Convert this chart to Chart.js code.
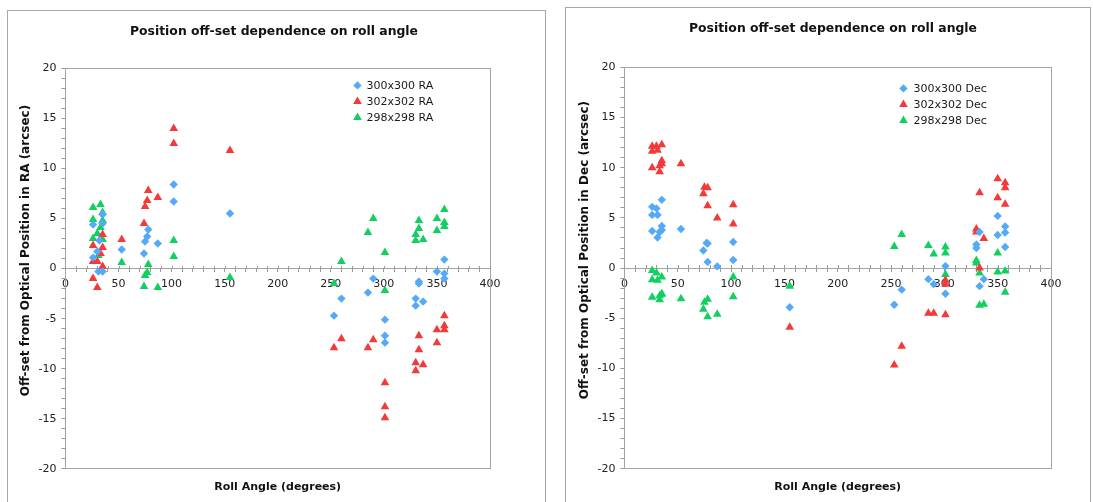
<!DOCTYPE html>
<html>
<head>
<meta charset="utf-8">
<script src="https://cdn.jsdelivr.net/npm/chart.js@4/dist/chart.umd.min.js"></script>
<style>
  html, body { margin: 0; padding: 0; background: #fff; width: 1093px; height: 502px; overflow: hidden; }
  .panel { position: absolute; border: 1px solid #a8a8a8; background: #fff; }
  #panelRA { left: 7px; top: 10px; width: 537px; height: 495px; }
  #panelDec { left: 565px; top: 7px; width: 524px; height: 498px; }
  canvas { display: block; }
</style>
</head>
<body>
<div class="panel" id="panelRA"><canvas id="chartRA" width="537" height="492"></canvas></div>
<div class="panel" id="panelDec"><canvas id="chartDec" width="524" height="494"></canvas></div>
<script>
// ---- Roll angle (degrees) and RA off-set (arcsec) per aperture ----
const angleRA300 = [26, 35, 35, 32, 26, 30, 31, 35, 53, 74, 75, 77, 78, 87, 102, 102, 155,
  357, 350, 357, 357, 333, 333, 330, 330, 337, 290, 285, 301, 301, 301, 260, 253];
const offsetRA300 = [4.4, 5.4, 4.5, 2.8, 1.1, 1.7, -0.3, -0.3, 1.9, 1.5, 2.7, 3.2, 3.9, 2.5, 8.4, 6.7, 5.5,
  0.9, -0.3, -0.5, -1.0, -1.3, -1.5, -3.0, -3.7, -3.3, -1.0, -2.4, -5.1, -6.7, -7.4, -3.0, -4.7];

const angleRA302 = [102, 102, 155, 78, 77, 75, 87, 74, 53, 35, 26, 35, 33, 26, 30, 35, 26, 30,
  357, 357, 357, 350, 350, 333, 333, 330, 330, 337, 290, 285, 260, 253, 301, 301, 301];
const offsetRA302 = [14.0, 12.5, 11.8, 7.8, 6.8, 6.2, 7.1, 4.5, 2.9, 3.4, 2.3, 2.1, 1.5, 0.7, 0.7, 0.2, -1.0, -1.9,
  -4.7, -5.7, -6.1, -6.1, -7.4, -6.7, -8.1, -9.4, -10.2, -9.6, -7.1, -7.9, -7.0, -7.9, -11.4, -13.8, -14.9];

const angleRA298 = [26, 33, 35, 26, 35, 33, 30, 26, 35, 31, 53, 78, 77, 75, 74, 87, 102, 102, 155,
  357, 350, 357, 357, 350, 333, 333, 330, 330, 337, 290, 285, 301, 260, 253, 301];
const offsetRA298 = [6.1, 6.4, 5.6, 4.9, 4.8, 4.1, 3.5, 3.0, 2.9, 1.3, 0.6, 0.4, -0.4, -0.7, -1.8, -1.9, 2.8, 1.2, -0.9,
  5.9, 5.0, 4.6, 4.2, 3.8, 4.8, 4.0, 3.4, 2.8, 2.9, 5.0, 3.6, 1.6, 0.7, -1.5, -2.2];

// ---- Roll angle (degrees) and Dec off-set (arcsec) per aperture ----
const angleDec300 = [26, 30, 26, 31, 35, 26, 35, 33, 31, 35, 53, 77, 78, 74, 78, 87, 102, 102, 155,
  350, 357, 357, 350, 357, 333, 330, 330, 337, 333, 301, 301, 285, 290, 260, 253];
const offsetDec300 = [6.1, 5.95, 5.3, 5.3, 6.8, 3.7, 4.2, 3.6, 3.05, 3.8, 3.9, 2.5, 2.45, 1.75, 0.6, 0.17, 2.6, 0.8, -3.9,
  5.2, 4.15, 3.55, 3.3, 2.1, 3.6, 2.35, 2.0, -1.1, -1.8, 0.2, -2.55, -1.1, -1.6, -2.15, -3.65];

const angleDec302 = [26, 30, 26, 31, 35, 26, 33, 35, 35, 33, 53, 74, 75, 78, 78, 87, 102, 102, 155,
  350, 357, 357, 350, 357, 333, 330, 330, 337, 333, 301, 301, 285, 290, 301, 260, 253];
const offsetDec302 = [12.15, 12.15, 11.65, 11.75, 12.3, 10.0, 9.6, 10.7, 10.4, 10.2, 10.4, 7.4, 8.05, 8.0, 6.2, 5.0, 6.3, 4.4, -5.9,
  8.9, 8.5, 8.0, 7.0, 6.35, 7.5, 3.9, 3.6, 2.95, 0.0, -1.2, -1.6, -4.5, -4.5, -4.65, -7.8, -9.65];

const angleDec298 = [26, 30, 35, 26, 31, 26, 35, 33, 33, 35, 53, 78, 75, 74, 78, 87, 102, 102, 155,
  350, 350, 357, 357, 330, 330, 333, 333, 337, 301, 301, 301, 285, 290, 260, 253];
const offsetDec298 = [-0.25, -0.5, -0.9, -1.15, -1.2, -2.9, -2.6, -3.15, -2.75, -2.55, -3.05, -3.1, -3.4, -4.1, -4.85, -4.6, -0.9, -2.85, -1.8,
  1.5, -0.4, -0.3, -2.4, 0.75, 0.5, -0.5, -3.7, -3.6, 2.1, 1.5, -0.65, 2.25, 1.4, 3.35, 2.15];

// ---- Axis ticks and labels ----
const angleTicks = [0, 50, 100, 150, 200, 250, 300, 350, 400];
const offsetTicks = [-20, -15, -10, -5, 0, 5, 10, 15, 20];
const chartTitle = 'Position off-set dependence on roll angle';
const xAxisTitle = 'Roll Angle (degrees)';

const BLUE = '#55aaf7', RED = '#f23a3a', GREEN = '#10d060';
const FONT = '"DejaVu Sans", Verdana, sans-serif';

function points(xs, ys) { return xs.map((x, i) => ({ x: x, y: ys[i] })); }

function series(label, xs, ys, color, style) {
  return {
    label: label,
    data: points(xs, ys),
    backgroundColor: color,
    borderColor: color,
    borderWidth: 0,
    pointStyle: style,
    pointRadius: style === 'triangle' ? 5 : 4.2,
    pointHoverRadius: style === 'triangle' ? 5 : 4.2
  };
}

// gray frame around the plot area, plus the upper half of the crossing angle ticks
const plotFrame = {
  id: 'plotFrame',
  beforeDatasetsDraw(chart) {
    const { ctx, chartArea: a, scales } = chart;
    ctx.save();
    ctx.strokeStyle = '#a4a4a4';
    ctx.lineWidth = 1;
    ctx.strokeRect(Math.round(a.left) + 0.5, Math.round(a.top) + 0.5,
      Math.round(a.right - a.left), Math.round(a.bottom - a.top));
    const yZero = Math.round(scales.y.getPixelForValue(0));
    ctx.strokeStyle = '#999';
    ctx.beginPath();
    scales.x.ticks.forEach(t => {
      const px = Math.round(scales.x.getPixelForValue(t.value)) + 0.5;
      ctx.moveTo(px, yZero - 3);
      ctx.lineTo(px, yZero);
    });
    ctx.stroke();
    ctx.restore();
  }
};

// vertical caption of the off-set axis, sitting a little above the plot centre
const offsetCaption = {
  id: 'offsetCaption',
  afterDraw(chart, args, opts) {
    const { ctx, chartArea, scales } = chart;
    ctx.save();
    ctx.translate(scales.y.left - 7.5, (chartArea.top + chartArea.bottom) / 2 - opts.raise);
    ctx.rotate(-Math.PI / 2);
    ctx.fillStyle = '#111';
    ctx.font = 'bold 12px ' + FONT;
    ctx.textAlign = 'center';
    ctx.textBaseline = 'middle';
    ctx.fillText(opts.text, 0, 0);
    ctx.restore();
  }
};

// key drawn inside the plot, from the datasets themselves
const insideLegend = {
  id: 'insideLegend',
  afterDatasetsDraw(chart, args, opts) {
    const { ctx, chartArea } = chart;
    const x0 = chartArea.left + opts.offsetX;
    const y0 = chartArea.top + opts.offsetY;
    chart.data.datasets.forEach((ds, i) => {
      const y = y0 + i * opts.rowGap;
      ctx.save();
      ctx.fillStyle = ds.backgroundColor;
      ctx.strokeStyle = ds.borderColor;
      Chart.helpers.drawPoint(ctx, { pointStyle: ds.pointStyle, radius: ds.pointRadius, borderWidth: 0, rotation: 0 }, x0, y);
      ctx.fillStyle = '#1a1a1a';
      ctx.font = '11px ' + FONT;
      ctx.textBaseline = 'middle';
      ctx.textAlign = 'left';
      ctx.fillText(ds.label, x0 + opts.textGap, y + 0.5);
      ctx.restore();
    });
  }
};

function makeChart(id, datasets, yTitle, cfg) {
  return new Chart(document.getElementById(id), {
    type: 'scatter',
    data: { datasets: datasets },
    plugins: [plotFrame, insideLegend, offsetCaption],
    options: {
      responsive: false,
      animation: false,
      events: [],
      layout: { padding: cfg.padding },
      plugins: {
        legend: { display: false },
        tooltip: { enabled: false },
        title: {
          display: true,
          text: chartTitle,
          color: '#111',
          font: { family: FONT, size: 12.4, weight: 'bold' },
          padding: cfg.titlePad
        },
        insideLegend: cfg.legend,
        offsetCaption: { text: yTitle, raise: 18 }
      },
      scales: {
        x: {
          type: 'linear',
          position: { y: 0 },
          min: 0, max: 400,
          afterBuildTicks(scale) {
            const t = [];
            for (let v = 0; v <= 400; v += 10) t.push({ value: v });
            scale.ticks = t;
          },
          ticks: {
            autoSkip: false,
            maxRotation: 0,
            padding: 6,
            color: '#222',
            font: { family: FONT, size: 11 },
            callback: v => angleTicks.includes(v) ? String(v) : ''
          },
          grid: { drawOnChartArea: false, drawTicks: true, tickLength: 3, color: '#999', tickColor: '#999' },
          border: { display: true, color: '#a4a4a4' }
        },
        xTitle: {
          type: 'linear',
          position: 'bottom',
          min: 0, max: 400,
          ticks: { display: false },
          grid: { display: false, drawTicks: false },
          border: { display: false },
          title: {
            display: true,
            text: xAxisTitle,
            color: '#111',
            font: { family: FONT, size: 11, weight: 'bold' },
            padding: cfg.xTitlePad
          }
        },
        // empty right-hand margin so the heading stays centred on the panel
        yMargin: {
          type: 'linear',
          position: 'right',
          min: -20, max: 20,
          ticks: { display: false },
          grid: { display: false, drawTicks: false },
          border: { display: false },
          afterFit(scale) { scale.width = cfg.rightMargin; }
        },
        y: {
          type: 'linear',
          min: -20, max: 20,
          afterBuildTicks(scale) {
            const t = [];
            for (let v = -20; v <= 20; v += 1) t.push({ value: v });
            scale.ticks = t;
          },
          ticks: {
            autoSkip: false,
            padding: 5,
            color: '#222',
            font: { family: FONT, size: 11 },
            callback: v => offsetTicks.includes(v) ? String(v) : ''
          },
          grid: { drawOnChartArea: false, drawTicks: true, tickLength: 4, color: '#999', tickColor: '#999' },
          border: { display: true, color: '#999' }
        }
      }
    }
  });
}

makeChart('chartRA', [
  series('300x300 RA', angleRA300, offsetRA300, BLUE, 'rectRot'),
  series('302x302 RA', angleRA302, offsetRA302, RED, 'triangle'),
  series('298x298 RA', angleRA298, offsetRA298, GREEN, 'triangle')
], 'Off-set from Optical Position in RA (arcsec)', {
  padding: { left: 25.5, right: 30.5, top: 0, bottom: 5 },
  rightMargin: 24.5,
  titlePad: { top: 13, bottom: 29.5 },
  xTitlePad: { top: 12, bottom: 4 },
  legend: { offsetX: 292, offsetY: 17, rowGap: 16, textGap: 9 }
});

makeChart('chartDec', [
  series('300x300 Dec', angleDec300, offsetDec300, BLUE, 'rectRot'),
  series('302x302 Dec', angleDec302, offsetDec302, RED, 'triangle'),
  series('298x298 Dec', angleDec298, offsetDec298, GREEN, 'triangle')
], 'Off-set from Optical Position in Dec (arcsec)', {
  padding: { left: 26.5, right: 16.5, top: 0, bottom: 4 },
  rightMargin: 22.5,
  titlePad: { top: 13, bottom: 31.5 },
  xTitlePad: { top: 12, bottom: 4 },
  legend: { offsetX: 279, offsetY: 21, rowGap: 16, textGap: 10 }
});
</script>
</body>
</html>
